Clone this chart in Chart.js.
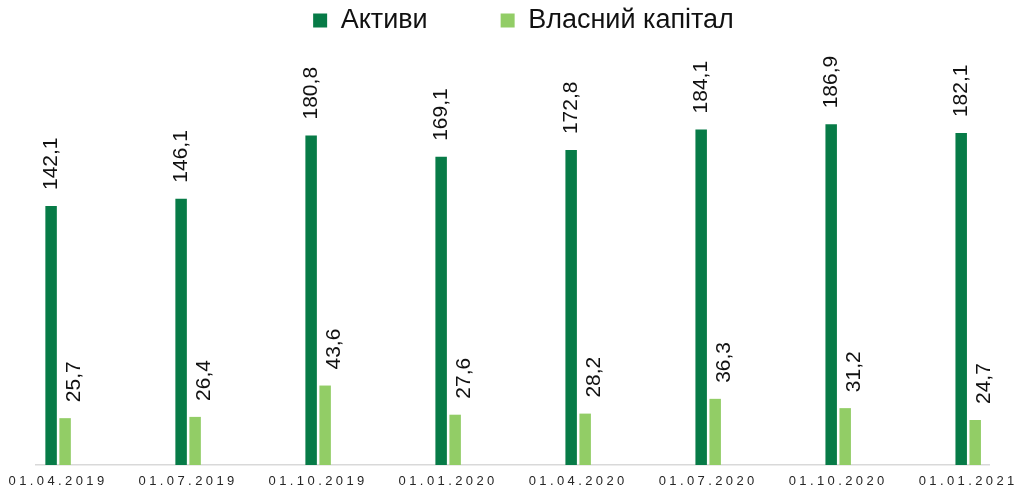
<!DOCTYPE html>
<html>
<head>
<meta charset="utf-8">
<script src="https://cdn.jsdelivr.net/npm/chart.js@4.4.1/dist/chart.umd.min.js"></script>
<style>
html,body{margin:0;padding:0;background:#fff;}
#wrap{position:relative;width:1014px;height:488px;}
</style>
</head>
<body>
<div id="wrap"><canvas id="c"></canvas></div>
<script>
// ---- data ----
const categories = ['01.04.2019','01.07.2019','01.10.2019','01.01.2020','01.04.2020','01.07.2020','01.10.2020','01.01.2021'];
const assets = [142.1, 146.1, 180.8, 169.1, 172.8, 184.1, 186.9, 182.1];
const equity = [25.7, 26.4, 43.6, 27.6, 28.2, 36.3, 31.2, 24.7];
const seriesNames = ['Активи', 'Власний капітал'];
const yRange = [0, 231];
const xRange = [-0.17, 7.16];

// ---- styling ----
const FONT = "'Liberation Sans', Arial, sans-serif";
Chart.defaults.font.family = FONT;
const DARK = '#077B47';
const LIGHT = '#92CD66';
const LEGEND_PAD = 73;
const LEGEND_SHIFT = 11;

const toPoints = arr => arr.map((v, i) => ({x: i, y: v}));

const valueLabels = {
  id: 'valueLabels',
  afterDatasetsDraw(chart) {
    const ctx = chart.ctx;
    chart.data.datasets.forEach((ds, di) => {
      const meta = chart.getDatasetMeta(di);
      meta.data.forEach((bar, i) => {
        const v = ds.data[i].y;
        const txt = v.toFixed(1).replace('.', ',');
        ctx.save();
        ctx.translate(bar.x + (ds.labelShift || 0), bar.y - 16);
        ctx.rotate(-Math.PI / 2);
        ctx.font = '21px ' + FONT;
        ctx.fillStyle = '#111';
        ctx.textAlign = 'left';
        ctx.textBaseline = 'middle';
        ctx.fillText(txt, 0, 0);
        ctx.restore();
      });
    });
  }
};

const tweaks = {
  id: 'tweaks',
  afterLayout(chart) {
    if (chart.legend) {
      chart.legend.left += LEGEND_SHIFT;
      chart.legend.right += LEGEND_SHIFT;
    }
  },
  beforeDraw(chart) {
    const sx = chart.scales.x;
    if (sx && !sx._spaced) {
      const orig = sx.drawLabels;
      sx.drawLabels = function (area) {
        const c = this.ctx;
        c.save();
        c.letterSpacing = '3.4px';
        orig.call(this, area);
        c.restore();
      };
      sx._spaced = true;
    }
  }
};

new Chart(document.getElementById('c'), {
  type: 'bar',
  data: {
    datasets: [
      {label: seriesNames[0], data: toPoints(assets), backgroundColor: DARK, labelShift: 0},
      {label: seriesNames[1], data: toPoints(equity), backgroundColor: LIGHT, labelShift: 9}
    ]
  },
  options: {
    responsive: true,
    maintainAspectRatio: false,
    animation: false,
    categoryPercentage: 28 / 130,
    barPercentage: 0.82,
    layout: {padding: {left: 36, right: 25, top: 7 - LEGEND_PAD, bottom: -10}},
    plugins: {
      legend: {
        position: 'top',
        labels: {
          boxWidth: 14, boxHeight: 14, padding: LEGEND_PAD,
          color: '#111',
          font: {size: 27, family: FONT}
        }
      },
      tooltip: {enabled: false}
    },
    scales: {
      x: {
        type: 'linear',
        offset: false,
        min: xRange[0], max: xRange[1],
        bounds: 'data',
        grid: {display: false, drawTicks: false, offset: false},
        border: {display: true, color: '#D9D9D9', width: 1.5},
        afterBuildTicks: s => { s.ticks = categories.map((_, i) => ({value: i})); },
        ticks: {
          autoSkip: false,
          maxRotation: 0,
          minRotation: 0,
          padding: 10,
          color: '#262626',
          font: {size: 13, family: FONT, lineHeight: 1},
          callback: (v, i) => categories[i]
        }
      },
      y: {
        display: false,
        min: yRange[0], max: yRange[1]
      }
    }
  },
  plugins: [valueLabels, tweaks]
});
</script>
</body>
</html>
